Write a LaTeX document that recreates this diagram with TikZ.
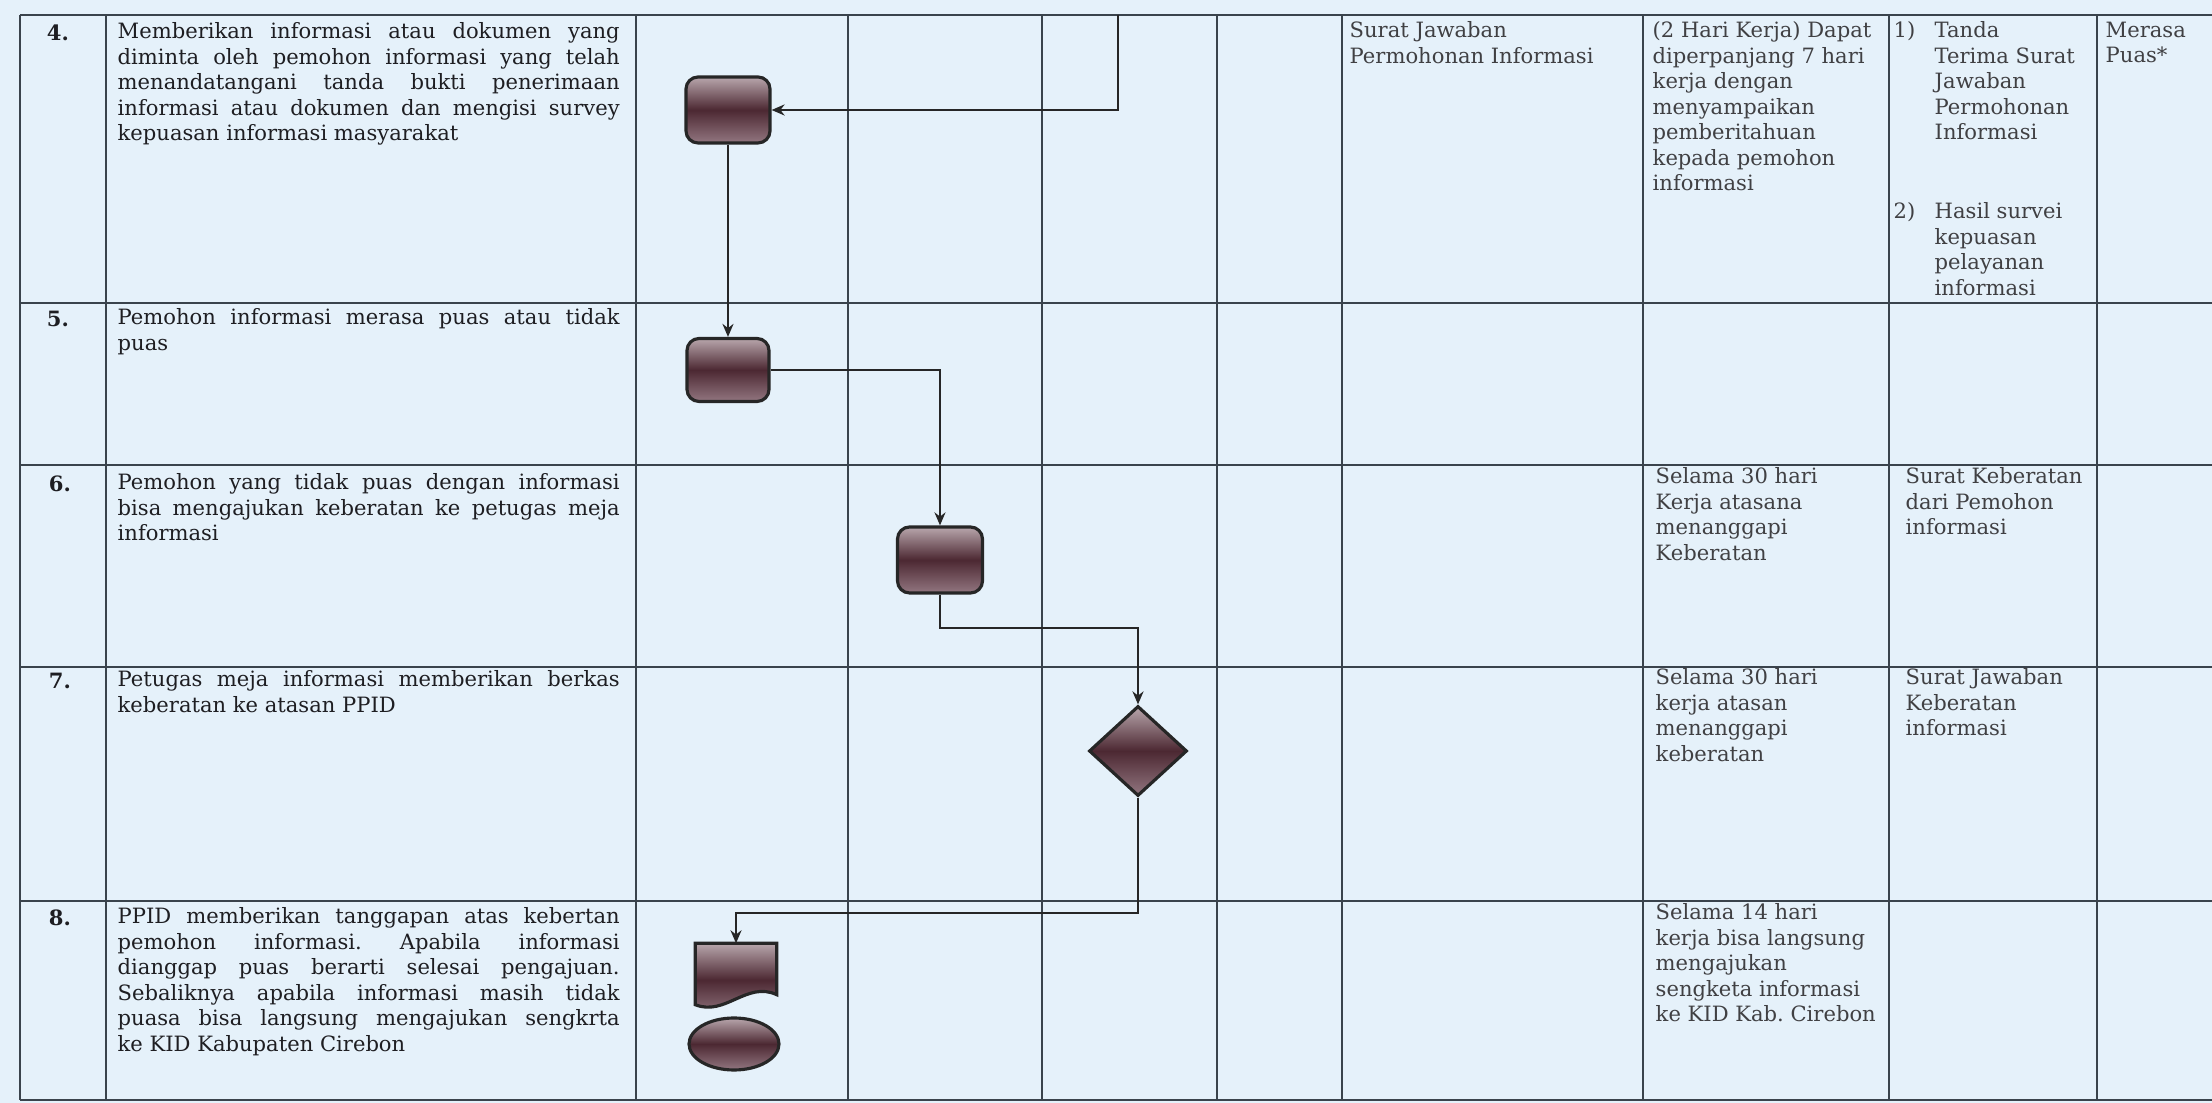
\documentclass[tikz,border=0pt]{standalone}
\usepackage{fontspec}
\setmainfont{DejaVu Serif}
\usetikzlibrary{shapes.geometric,arrows.meta,calc}
\definecolor{bg}{HTML}{E5F1FA}
\definecolor{gridc}{HTML}{3A434C}
\definecolor{sha}{HTML}{B8A6AC}
\definecolor{shb}{HTML}{4C2832}
\definecolor{shc}{HTML}{927680}
\definecolor{txt}{HTML}{1E1E22}
\begin{document}
\frenchspacing
\begin{tikzpicture}[x=0.1mm,y=-0.1mm,
  gridline/.style={draw=gridc, line width=0.8pt},
  desc/.style={anchor=north west, inner sep=0pt, text width=50.2mm, align=justify, text=txt, font=\fontsize{6}{7.25}\selectfont},
  cell/.style={anchor=north west, inner sep=0pt, align=left, text=txt!85, font=\fontsize{6}{7.25}\selectfont},
  num/.style={anchor=north, inner sep=0pt, text=txt, font=\fontsize{6}{7.25}\selectfont\bfseries},
  shfill/.style={top color=sha, bottom color=shc, middle color=shb, draw=black!85, line width=0.9pt},
  proc/.style={shfill, rectangle, rounded corners=1.2mm, inner sep=0pt},
  decis/.style={shfill, diamond, inner sep=0pt, minimum width=9.8mm, minimum height=9mm},
  term/.style={shfill, ellipse, inner sep=0pt, minimum width=9mm, minimum height=5.2mm},
  docbox/.style={rectangle, inner sep=0pt, minimum width=8mm, minimum height=5mm},
  conn/.style={draw=black!85, line width=0.8pt, -{Stealth[length=1.3mm,width=1.1mm]}}
]
% background / bounding box
\fill[bg] (0,0) rectangle (2212,1103);
\useasboundingbox (0,0) rectangle (2212,1103);

% horizontal lines
\foreach \yy in {15,303,465,667,901,1100}
  \draw[gridline] (20,\yy) -- (2212,\yy);
% vertical lines
\foreach \xx in {20,106,636,848,1042,1217,1342,1643,1889,2097}
  \draw[gridline] (\xx,15) -- (\xx,1100);

% numbers
\node[num] (n4) at (58,24) {4.};
\node[num] (n5) at (58,310) {5.};
\node[num] (n6) at (60,475) {6.};
\node[num] (n7) at (60,672) {7.};
\node[num] (n8) at (60,909) {8.};

% descriptions
\node[desc] (d4) at (117,22) {Memberikan informasi atau dokumen yang\linebreak diminta oleh pemohon informasi yang telah\linebreak menandatangani tanda bukti penerimaan\linebreak informasi atau dokumen dan mengisi survey\linebreak kepuasan informasi masyarakat};
\node[desc] (d5) at (117,308) {Pemohon informasi merasa puas atau tidak\linebreak puas};
\node[desc] (d6) at (117,473) {Pemohon yang tidak puas dengan informasi\linebreak bisa mengajukan keberatan ke petugas meja\linebreak informasi};
\node[desc] (d7) at (117,670) {Petugas meja informasi memberikan berkas\linebreak keberatan ke atasan PPID};
\node[desc] (d8) at (117,907) {PPID memberikan tanggapan atas kebertan\linebreak pemohon informasi. Apabila informasi\linebreak dianggap puas berarti selesai pengajuan.\linebreak Sebaliknya apabila informasi masih tidak\linebreak puasa bisa langsung mengajukan sengkrta\linebreak ke KID Kabupaten Cirebon};

% right columns
\node[cell] (a4) at (1349,21) {Surat Jawaban\\Permohonan Informasi};
\node[cell] (b4) at (1652,21) {(2 Hari Kerja) Dapat\\diperpanjang 7 hari\\kerja dengan\\menyampaikan\\pemberitahuan\\kepada pemohon\\informasi};
\node[cell] (c4n1) at (1893,21) {1)};
\node[cell] (c4a) at (1934,21) {Tanda\\Terima Surat\\Jawaban\\Permohonan\\Informasi};
\node[cell] (c4n2) at (1893,202) {2)};
\node[cell] (c4b) at (1934,202) {Hasil survei\\kepuasan\\pelayanan\\informasi};
\node[cell] (e4) at (2105,21) {Merasa\\Puas*};
\node[cell] (b6) at (1655,467) {Selama 30 hari\\Kerja atasana\\menanggapi\\Keberatan};
\node[cell] (c6) at (1905,467) {Surat Keberatan\\dari Pemohon\\informasi};
\node[cell] (b7) at (1655,668) {Selama 30 hari\\kerja atasan\\menanggapi\\keberatan};
\node[cell] (c7) at (1905,668) {Surat Jawaban\\Keberatan\\informasi};
\node[cell] (b8) at (1655,903) {Selama 14 hari\\kerja bisa langsung\\mengajukan\\sengketa informasi\\ke KID Kab. Cirebon};

% flow shapes
\node[proc, minimum width=8.4mm, minimum height=6.6mm] (box1) at (728,110) {};
\node[proc, minimum width=8.2mm, minimum height=6.3mm] (box2) at (728,370) {};
\node[proc, minimum width=8.5mm, minimum height=6.6mm] (box3) at (940,560) {};
\node[decis] (dia) at (1138,751) {};
\node[docbox] (doc) at (736,969) {};
\fill[shfill] (doc.north west) -- (doc.north east) -- (doc.south east)
  .. controls ($(doc.south east)+(-30,-14)$) and ($(doc.south west)+(30,22)$) .. ($(doc.south west)+(0,10)$) -- cycle;
\node[term] (term) at (734,1044) {};

% connectors
\coordinate (topin) at (1118,15);
\coordinate (b3) at (940,628);
\coordinate (d1) at (1138,913);
\draw[conn] (topin) |- (box1.east);
\draw[conn] (box1.south) -- (box2.north);
\draw[conn] (box2.east) -| (box3.north);
\draw[conn] (box3.south) -- (b3) -| (dia.north);
\draw[conn] (dia.south) -- (d1) -| (doc.north);
\end{tikzpicture}
\end{document}
